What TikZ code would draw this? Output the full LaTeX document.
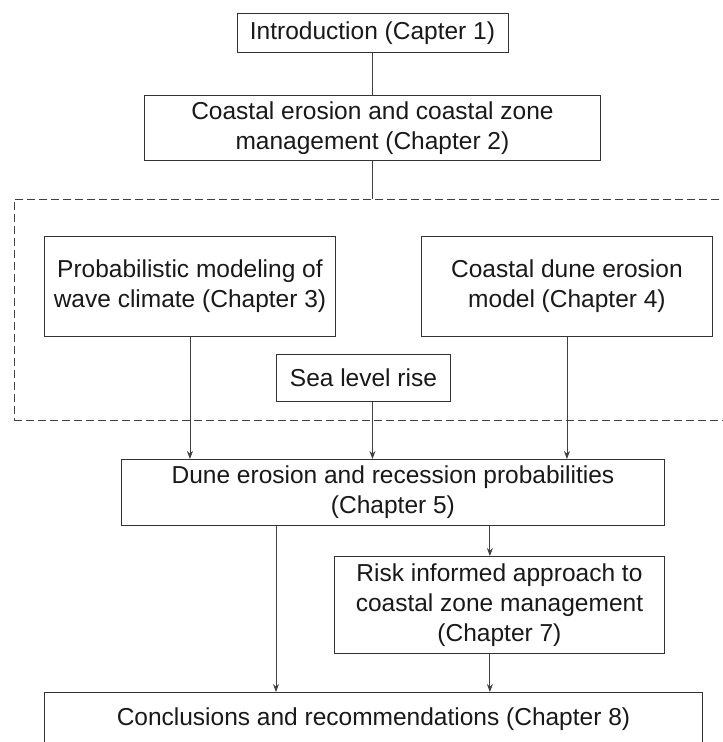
\documentclass[tikz,border=0pt]{standalone}
\usepackage{fontspec}
\setmainfont{Liberation Sans}
\usetikzlibrary{arrows.meta}
\begin{document}
\begin{tikzpicture}[x=1pt,y=-1pt,
  box/.style={draw=black!80, line width=0.9pt, anchor=north west, inner sep=0pt, align=center,
    font=\fontsize{24.5}{30}\selectfont, text=black!90},
  conn/.style={draw=black!75, line width=0.9pt},
  arr/.style={conn, -{Stealth[length=8pt,width=6pt]}},
  grp/.style={draw=black!75, line width=0.9pt, dash pattern=on 8pt off 4pt}]
\clip (0,0) rectangle (723,742);
\fill[white] (0,0) rectangle (723,742);
% dashed group (right side runs off the picture)
\node[grp, anchor=north west, minimum width=740pt, minimum height=221pt, inner sep=0pt] (group) at (14,199) {};
\node[box, minimum width=271pt, minimum height=39pt] (intro) at (236.5,13) {Introduction (Capter 1)};
\node[box, minimum width=456pt, minimum height=65pt] (cz) at (144,95) {Coastal erosion and coastal zone\\management (Chapter 2)};
\node[box, minimum width=291pt, minimum height=100pt] (prob) at (44,236) {Probabilistic modeling of\\wave climate (Chapter 3)};
\node[box, minimum width=291pt, minimum height=100pt] (dune) at (421,236) {Coastal dune erosion\\model (Chapter 4)};
\node[box, minimum width=174pt, minimum height=47pt] (slr) at (276,354) {Sea level rise};
\node[box, minimum width=543pt, minimum height=66pt] (d5) at (121,459) {Dune erosion and recession probabilities\\(Chapter 5)};
\node[box, minimum width=330pt, minimum height=97pt] (risk) at (334,556) {Risk informed approach to\\coastal zone management\\(Chapter 7)};
\node[box, minimum width=658pt, minimum height=54pt] (concl) at (44,692) {Conclusions and recommendations (Chapter 8)};
% connectors
\draw[conn] (cz.north |- intro.south) -- (cz.north);
\draw[conn] (cz.south) -- (cz.south |- group.north);
\draw[arr] (prob.south) -- (prob.south |- d5.north);
\coordinate (slrout) at ([xshift=9pt]slr.south);
\draw[arr] (slrout) -- (slrout |- d5.north);
\draw[arr] (dune.south) -- (dune.south |- d5.north);
\coordinate (d5a) at ([xshift=155pt]d5.south west);
\coordinate (d5b) at ([xshift=-175pt]d5.south east);
\draw[arr] (d5a) -- (d5a |- concl.north);
\draw[arr] (d5b) -- (d5b |- risk.north);
\draw[arr] (d5b |- risk.south) -- (d5b |- concl.north);
\end{tikzpicture}
\end{document}
